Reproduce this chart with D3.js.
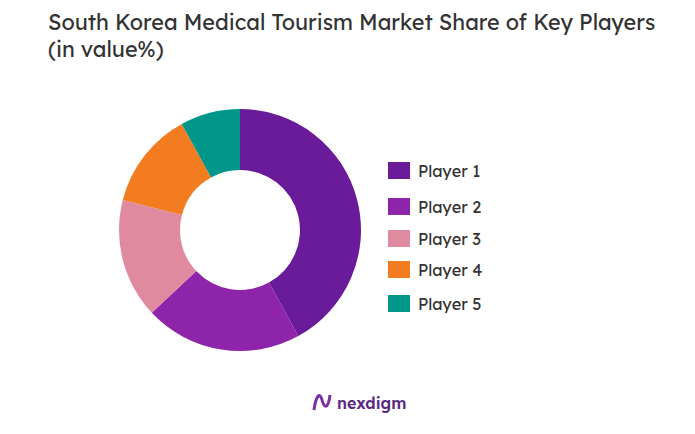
<!DOCTYPE html><html><head><meta charset="utf-8">
<script src="https://cdn.jsdelivr.net/npm/d3@7"></script>
<style>body{margin:0;background:#fff}</style></head><body>
<svg id="c" width="695" height="434"></svg>
<script>
const categories=["Player 1","Player 2","Player 3","Player 4","Player 5"];
const values=[42,21,16,13,8];
const colors=["#6a1b9a","#8e24aa","#e08aa0","#f47c20","#00968a"];
const legendY=[171,207,239,270,304];
const svg=d3.select("#c");
const f="Lexend, 'Open Sans', sans-serif";
svg.append("text").attr("x",48).attr("y",30).attr("font-family",f).attr("font-size",21.6).attr("fill","#333").text("South Korea Medical Tourism Market Share of Key Players");
svg.append("text").attr("x",48).attr("y",57).attr("font-family",f).attr("font-size",21.6).attr("fill","#333").text("(in value%)");
const pie=d3.pie().sort(null)(values);
const arc=d3.arc().innerRadius(60).outerRadius(121);
svg.append("g").attr("transform","translate(240,230)").selectAll("path").data(pie).join("path").attr("d",arc).attr("fill",(d,i)=>colors[i]);
const lg=svg.append("g");
categories.forEach((c,i)=>{
 lg.append("rect").attr("x",388).attr("y",legendY[i]-9).attr("width",22).attr("height",17).attr("fill",colors[i]);
 lg.append("text").attr("x",418).attr("y",legendY[i]+6).attr("font-family",f).attr("font-size",16.3).attr("fill","#333").text(c);
});
svg.append("path").attr("d","M314 410 C316 395,320 392,322 400 C324 408,328 410,330 395").attr("stroke","#7b2fa3").attr("stroke-width",3).attr("fill","none");
svg.append("text").attr("x",337).attr("y",409).attr("font-family",f).attr("font-size",16).attr("font-weight","600").attr("fill","#5a2a82").text("nexdigm");
</script></body></html>
